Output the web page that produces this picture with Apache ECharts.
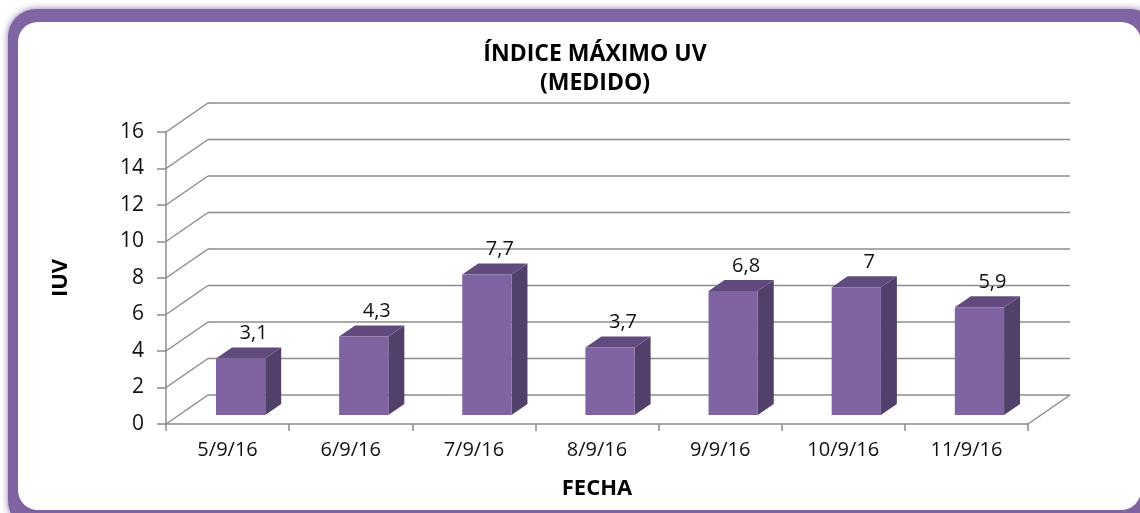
<!DOCTYPE html>
<html>
<head>
<meta charset="utf-8">
<script src="https://cdn.jsdelivr.net/npm/echarts@6/dist/echarts.min.js"></script>
<style>
html,body{margin:0;padding:0;background:#fff;}
#main{width:1140px;height:513px;}
</style>
</head>
<body>
<div id="main"></div>
<script>
var categories = ['5/9/16','6/9/16','7/9/16','8/9/16','9/9/16','10/9/16','11/9/16'];
var values = [3.1, 4.3, 7.7, 3.7, 6.8, 7, 5.9];
var yTicks = [0, 2, 4, 6, 8, 10, 12, 14, 16];
var titleText = 'ÍNDICE MÁXIMO UV\n(MEDIDO)';
var xName = 'FECHA';
var yName = 'IUV';

var FONT = 'Open Sans';
var DX = 42, DY = -29;          // depth of the 3D box
var GRID_COLOR = '#8c8c8c';
var FRONT = '#8064a2', TOP = '#614b7e', SIDE = '#51406a';

function fmt(v){ return String(v).replace('.', ','); }

var chart = echarts.init(document.getElementById('main'), null, {renderer:'canvas'});

var option = {
  animation: false,
  title: {
    text: titleText,
    left: 590, top: 35, textAlign: 'center',
    textStyle: {fontFamily: FONT, fontWeight: 'bold', fontSize: 23, color: '#000', lineHeight: 29}
  },
  graphic: [
    {type:'rect', z:-100, shape:{x:8, y:9, width:1150, height:520, r:28},
     style:{fill:'#8064a2', shadowBlur:7, shadowColor:'rgba(128,100,162,0.9)'}},
    {type:'rect', z:-99, shape:{x:18, y:22, width:1123, height:488, r:20},
     style:{fill:'#ffffff'}}
  ],
  grid: {left:166, right:112, top:132, bottom:89},
  xAxis: {
    type: 'category', data: categories,
    name: xName, nameLocation: 'middle', nameGap: 54,
    nameTextStyle: {fontFamily: FONT, fontWeight:'bold', fontSize: 22, color:'#000'},
    axisLine: {show:true, lineStyle:{color:GRID_COLOR, width:1.5}},
    axisTick: {show:true, length:7, lineStyle:{color:GRID_COLOR, width:1.5}},
    axisLabel: {fontFamily: FONT, fontSize: 20, color:'#111', margin: 16},
    splitLine: {show:false}
  },
  yAxis: {
    type: 'value', min: 0, max: 16, interval: 2,
    name: yName, nameLocation: 'middle', nameGap: 94, nameRotate: 90,
    nameTextStyle: {fontFamily: FONT, fontWeight:'bold', fontSize: 22, color:'#000'},
    axisLine: {show:true, lineStyle:{color:GRID_COLOR, width:1.5}},
    axisTick: {show:true, length:9, lineStyle:{color:GRID_COLOR, width:1.5}},
    axisLabel: {fontFamily: FONT, fontSize: 21, color:'#111', margin: 22},
    splitLine: {show:false}
  },
  series: [
    {
      type: 'custom', z: 1, silent: true,
      data: yTicks.map(function(v){ return [0, v]; }),
      encode: {x:0, y:1},
      renderItem: function(params, api){
        var cs = params.coordSys;
        var y = api.coord([0, api.value(1)])[1];
        var x0 = cs.x, x1 = cs.x + cs.width;
        var children = [
          {type:'line', shape:{x1:x0, y1:y, x2:x0+DX, y2:y+DY}, style:{stroke:GRID_COLOR, lineWidth:1.5}},
          {type:'line', shape:{x1:x0+DX, y1:y+DY, x2:x1+DX, y2:y+DY}, style:{stroke:GRID_COLOR, lineWidth:1.5}}
        ];
        if (api.value(1) === 0) {
          children.push({type:'line', shape:{x1:x1, y1:y, x2:x1+DX, y2:y+DY}, style:{stroke:GRID_COLOR, lineWidth:1.5}});
        }
        return {type:'group', children: children};
      }
    },
    {
      type: 'custom', z: 3,
      data: values.map(function(v, i){ return [i, v]; }),
      encode: {x:0, y:1},
      renderItem: function(params, api){
        var cat = api.value(0), val = api.value(1);
        var base = api.coord([cat, 0]);
        var top = api.coord([cat, val]);
        var bw = api.size([1, 0])[0] * 0.4;
        var fx = DX * 0.31, fy = DY * 0.31;
        var sx = DX * 0.38, sy = DY * 0.38;
        var x0 = base[0] - bw/2 + fx, x1 = x0 + bw;
        var yb = base[1] + fy, yt = top[1] + fy;
        return {type:'group', children:[
          {type:'polygon', shape:{points:[[x1,yb],[x1,yt],[x1+sx,yt+sy],[x1+sx,yb+sy]]}, style:{fill:SIDE}},
          {type:'polygon', shape:{points:[[x0,yt],[x1,yt],[x1+sx,yt+sy],[x0+sx,yt+sy]]}, style:{fill:TOP}},
          {type:'rect', shape:{x:x0, y:yt, width:bw, height:yb-yt}, style:{fill:FRONT}},
          {type:'text', style:{text: fmt(val), x: x0 + bw/2 + sx/2 + 5, y: yt + sy - 4,
            align:'center', verticalAlign:'bottom', font: '20px "' + FONT + '"', fill:'#111'}}
        ]};
      }
    }
  ]
};
chart.setOption(option);
</script>
</body>
</html>
